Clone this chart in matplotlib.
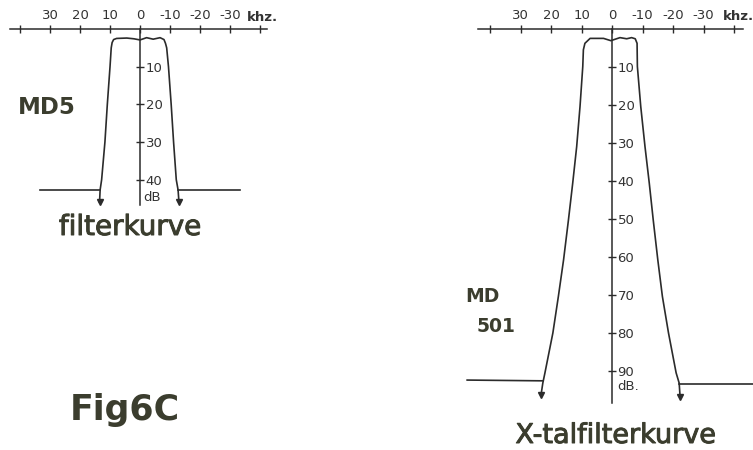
import matplotlib.pyplot as plt
import matplotlib.patheffects as pe

# ---- data (kHz, dB below the top) ----
khz_ticks = [40, 30, 20, 10, 0, -10, -20, -30, -40]
khz_labels = ['', '30', '20', '10', '0', '-10', '-20', '-30', '']

md5_db_ticks = [10, 20, 30, 40]
md501_db_ticks = [10, 20, 30, 40, 50, 60, 70, 80, 90]

# MD5 filter curve
md5_khz = [13.5, 13.3, 12.8, 11.7, 10.9, 10.0, 9.6, 9.3, 8.8, 7.8, 4.4, 2.0, 0.0,
           -2.2, -4.4, -6.7, -8.0, -8.5, -8.9, -9.5, -10.4, -11.2, -12.1, -12.7, -13.0]
md5_db = [46.0, 42.7, 40.0, 30.0, 20.0, 10.0, 5.0, 3.6, 2.8, 2.5, 2.4, 2.6, 2.9,
          2.3, 2.7, 2.3, 2.8, 3.8, 5.0, 10.0, 20.0, 30.0, 40.0, 42.7, 46.0]
md5_floor_left_khz = [33.3, 13.3]
md5_floor_right_khz = [-12.7, -33.3]
md5_floor_db = [42.7, 42.7]
md5_arrow_khz = [13.5, -13.0]
md5_arrow_db = [46.0, 46.0]

# MD 501 crystal filter curve
md501_khz = [23.3, 22.7, 22.0, 19.4, 17.6, 15.9, 14.3, 12.9, 11.6, 10.5, 9.6, 9.4,
             8.9, 7.2, 5.0, 2.8, 0.4, -2.6, -4.8, -6.4, -7.6, -8.2, -8.3, -9.4,
             -10.8, -12.2, -13.5, -15.0, -16.5, -18.5, -21.0, -22.0, -22.3]
md501_db = [96.4, 93.2, 90.5, 80.0, 70.4, 60.8, 50.3, 40.6, 31.0, 20.4, 9.9, 5.5,
            3.8, 2.5, 2.5, 2.5, 3.1, 2.3, 2.6, 2.3, 2.6, 3.8, 9.9, 20.4,
            31.0, 40.6, 50.3, 60.8, 70.4, 80.0, 90.5, 93.2, 96.8]
md501_floor_left_khz = [47.5, 22.7]
md501_floor_left_db = [92.4, 92.6]
md501_floor_right_khz = [-22.0, -46.2]
md501_floor_right_db = [93.4, 93.4]
md501_arrow_khz = [23.3, -22.3]
md501_arrow_db = [96.4, 96.8]

line_c = '#2b2b2b'
text_c = '#3b3d2e'

fig = plt.figure(figsize=(7.53, 4.5), dpi=100)
fig.patch.set_facecolor('white')

ax1 = fig.add_axes([0, 1 - 240 / 450, 280 / 753, 240 / 450])
ax1.set_xlim(46.7, -46.7)
ax1.set_ylim(56, -7.7)

ax2 = fig.add_axes([440 / 753, 0, 313 / 753, 1])
ax2.set_xlim(56.4, -46.2)
ax2.set_ylim(110.8, -7.6)


def setup(ax, db_ticks, xbound, ybound):
    ax.patch.set_visible(False)
    for s in ['left', 'bottom']:
        ax.spines[s].set_visible(False)
    for s in ['top', 'right']:
        ax.spines[s].set_position(('data', 0))
        ax.spines[s].set_color(line_c)
        ax.spines[s].set_linewidth(1.1)
    ax.spines['top'].set_bounds(*xbound)
    ax.spines['right'].set_bounds(*ybound)
    ax.xaxis.set_ticks_position('top')
    ax.yaxis.set_ticks_position('right')
    ax.set_xticks(khz_ticks)
    ax.set_xticklabels(khz_labels)
    ax.set_yticks(db_ticks)
    ax.tick_params(direction='inout', length=6, width=1, color=line_c,
                   labelsize=9.5, labelcolor='#333333', pad=2)
    ax.tick_params(axis='y', pad=1)


setup(ax1, md5_db_ticks, (43.4, -42.3), (0, 46.7))
setup(ax2, md501_db_ticks, (44.0, -43.0), (0, 98.4))

# curves
ax1.plot(md5_khz, md5_db, color=line_c, lw=1.2)
ax1.plot(md5_floor_left_khz, md5_floor_db, color=line_c, lw=1.2)
ax1.plot(md5_floor_right_khz, md5_floor_db, color=line_c, lw=1.2)
ax1.plot(md5_arrow_khz, md5_arrow_db, 'v', color=line_c, ms=4.5)

ax2.plot(md501_khz, md501_db, color=line_c, lw=1.2)
ax2.plot(md501_floor_left_khz, md501_floor_left_db, color=line_c, lw=1.2)
ax2.plot(md501_floor_right_khz, md501_floor_right_db, color=line_c, lw=1.2)
ax2.plot(md501_arrow_khz, md501_arrow_db, 'v', color=line_c, ms=4.5)

# axis units
ax1.text(-40.7, -3.1, 'khz.', ha='center', va='center', fontsize=9.5,
         fontweight='bold', color='#333333')
ax2.text(-41.3, -3.2, 'khz.', ha='center', va='center', fontsize=9.5,
         fontweight='bold', color='#333333')
ax1.text(-1.0, 44.6, 'dB', ha='left', va='center', fontsize=9.5, color='#333333')
ax2.text(-1.6, 94.2, 'dB.', ha='left', va='center', fontsize=9.5, color='#333333')

# labels
thick = [pe.withStroke(linewidth=0.7, foreground=text_c)]
fig.text(18 / 753, 1 - 107 / 450, 'MD5', ha='left', va='center', fontsize=16.5,
         fontweight='bold', color=text_c)
fig.text(130 / 753, 1 - 235 / 450, 'filterkurve', ha='center', va='baseline',
         fontsize=20, color=text_c, path_effects=thick)
fig.text(125 / 753, 1 - 410 / 450, 'Fig6C', ha='center', va='center', fontsize=25,
         fontweight='bold', color=text_c)
fig.text(465 / 753, 1 - 297 / 450, 'MD', ha='left', va='center', fontsize=13.5,
         fontweight='bold', color=text_c)
fig.text(477 / 753, 1 - 327 / 450, '501', ha='left', va='center', fontsize=13.5,
         fontweight='bold', color=text_c)
fig.text(616 / 753, 1 - 443 / 450, 'X-talfilterkurve', ha='center', va='baseline',
         fontsize=19.5, color=text_c, path_effects=thick)

fig.savefig('out.png', dpi=100)
